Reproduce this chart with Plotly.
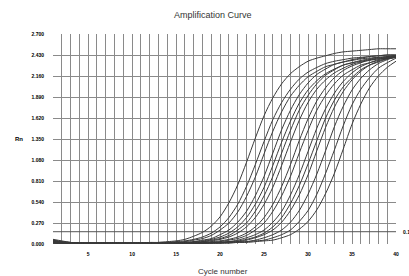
import plotly.graph_objects as go

cycles = list(range(1, 41))

curve01 = [0.04,0.02,0.01,0.01,0.01,0.01,0.01,0.01,0.01,0.01,
           0.01,0.02,0.02,0.03,0.04,0.06,0.10,0.15,0.23,0.35,
           0.53,0.76,1.05,1.36,1.65,1.88,2.06,2.19,2.28,2.35,
           2.39,2.42,2.45,2.47,2.48,2.49,2.50,2.51,2.51,2.51]
curve02 = [0.02,0.02,0.01,0.01,0.01,0.01,0.01,0.01,0.01,0.01,
           0.01,0.01,0.02,0.02,0.03,0.04,0.06,0.09,0.14,0.22,
           0.34,0.51,0.74,1.02,1.32,1.60,1.82,1.99,2.12,2.21,
           2.27,2.32,2.35,2.37,2.39,2.40,2.41,2.42,2.43,2.43]
curve03 = [0.05,0.03,0.02,0.01,0.01,0.01,0.01,0.01,0.01,0.01,
           0.01,0.01,0.02,0.02,0.02,0.03,0.05,0.07,0.11,0.18,
           0.27,0.41,0.61,0.86,1.16,1.45,1.70,1.90,2.04,2.15,
           2.22,2.28,2.31,2.34,2.36,2.38,2.39,2.40,2.40,2.41]
curve04 = [0.00,0.01,0.01,0.01,0.01,0.01,0.01,0.01,0.01,0.01,
           0.01,0.01,0.01,0.02,0.02,0.02,0.03,0.05,0.07,0.12,
           0.18,0.28,0.42,0.62,0.87,1.17,1.47,1.72,1.92,2.07,
           2.18,2.25,2.31,2.34,2.37,2.39,2.41,2.42,2.43,2.43]
curve05 = [0.03,0.02,0.01,0.01,0.01,0.01,0.01,0.01,0.01,0.01,
           0.01,0.01,0.01,0.01,0.02,0.02,0.03,0.04,0.06,0.09,
           0.14,0.22,0.34,0.51,0.73,1.01,1.31,1.58,1.81,1.98,
           2.10,2.19,2.25,2.30,2.33,2.35,2.37,2.38,2.39,2.40]
curve06 = [-0.01,0.00,0.01,0.01,0.01,0.01,0.01,0.01,0.01,0.01,
           0.01,0.01,0.01,0.01,0.02,0.02,0.02,0.03,0.05,0.07,
           0.11,0.18,0.27,0.42,0.62,0.87,1.17,1.46,1.72,1.91,
           2.06,2.17,2.24,2.30,2.33,2.36,2.38,2.40,2.41,2.42]
curve07 = [0.04,0.03,0.02,0.01,0.01,0.01,0.01,0.01,0.01,0.01,
           0.01,0.01,0.01,0.01,0.01,0.02,0.02,0.03,0.04,0.06,
           0.09,0.14,0.22,0.34,0.51,0.73,1.01,1.31,1.59,1.82,
           1.99,2.11,2.20,2.26,2.31,2.34,2.36,2.38,2.39,2.40]
curve08 = [0.02,0.01,0.01,0.01,0.01,0.01,0.01,0.01,0.01,0.01,
           0.01,0.01,0.01,0.01,0.01,0.01,0.02,0.02,0.03,0.04,
           0.06,0.09,0.14,0.22,0.34,0.51,0.74,1.02,1.33,1.61,
           1.84,2.01,2.14,2.23,2.29,2.33,2.37,2.39,2.41,2.42]
curve09 = [0.06,0.04,0.02,0.01,0.01,0.01,0.01,0.01,0.01,0.01,
           0.01,0.01,0.01,0.01,0.01,0.01,0.02,0.02,0.02,0.03,
           0.05,0.07,0.11,0.18,0.27,0.42,0.62,0.87,1.17,1.46,
           1.72,1.91,2.06,2.17,2.24,2.30,2.33,2.36,2.38,2.40]
curve10 = [0.01,0.01,0.01,0.01,0.01,0.01,0.01,0.01,0.01,0.01,
           0.01,0.01,0.01,0.01,0.01,0.01,0.01,0.02,0.02,0.02,
           0.03,0.05,0.08,0.12,0.18,0.28,0.42,0.63,0.89,1.19,
           1.49,1.74,1.94,2.09,2.20,2.28,2.33,2.37,2.40,2.42]
curve11 = [0.03,0.02,0.01,0.01,0.01,0.01,0.01,0.01,0.01,0.01,
           0.01,0.01,0.01,0.01,0.01,0.01,0.01,0.01,0.02,0.02,
           0.03,0.04,0.06,0.09,0.14,0.22,0.34,0.52,0.75,1.03,
           1.33,1.62,1.85,2.02,2.14,2.24,2.30,2.34,2.38,2.40]
curve12 = [0.05,0.03,0.01,0.01,0.01,0.01,0.01,0.01,0.01,0.01,
           0.01,0.01,0.01,0.01,0.01,0.01,0.01,0.01,0.02,0.02,
           0.03,0.03,0.05,0.08,0.12,0.18,0.28,0.43,0.63,0.89,
           1.20,1.50,1.76,1.96,2.11,2.22,2.30,2.35,2.39,2.42]
curve13 = [0.00,0.01,0.01,0.01,0.01,0.01,0.01,0.01,0.01,0.01,
           0.01,0.01,0.01,0.01,0.01,0.01,0.01,0.01,0.01,0.02,
           0.02,0.03,0.03,0.05,0.08,0.12,0.18,0.28,0.43,0.64,
           0.90,1.20,1.51,1.77,1.98,2.13,2.24,2.32,2.37,2.41]
curve14 = [0.04,0.02,0.01,0.01,0.01,0.01,0.01,0.01,0.01,0.01,
           0.01,0.01,0.01,0.01,0.01,0.01,0.01,0.01,0.01,0.01,
           0.02,0.02,0.03,0.04,0.05,0.08,0.12,0.18,0.29,0.43,
           0.64,0.91,1.21,1.52,1.79,1.99,2.14,2.26,2.33,2.39]
curve15 = [0.02,0.02,0.01,0.01,0.01,0.01,0.01,0.01,0.01,0.01,
           0.01,0.01,0.01,0.01,0.01,0.01,0.01,0.01,0.01,0.01,
           0.01,0.02,0.02,0.03,0.04,0.05,0.08,0.12,0.19,0.29,
           0.44,0.65,0.91,1.22,1.54,1.80,2.01,2.16,2.27,2.35]

curves = [curve01, curve02, curve03, curve04, curve05, curve06, curve07, curve08,
          curve09, curve10, curve11, curve12, curve13, curve14, curve15]

threshold = 0.158
threshold_label = "0.158"
y_ticks = [0.0, 0.27, 0.54, 0.81, 1.08, 1.35, 1.62, 1.89, 2.16, 2.43, 2.70]
x_ticks = [5, 10, 15, 20, 25, 30, 35, 40]

W, H = 409, 276
ML, MR, MT, MB = 53, 13, 34, 32

fig = go.Figure()

fig.add_trace(go.Scatter(x=[cycles[0], cycles[-1]], y=[threshold, threshold], mode="lines",
                         line=dict(color="#555555", width=1), hoverinfo="skip"))

for c in curves:
    fig.add_trace(go.Scatter(x=cycles, y=c, mode="lines",
                             line=dict(color="#3a3a3a", width=1, shape="spline", smoothing=0.8),
                             hoverinfo="skip"))

tickfont = dict(family="Liberation Sans", size=5, color="#000000", weight="bold")
gridc = "#8a8a8a"

plot_w = W - ML - MR
plot_h = H - MT - MB

fig.update_layout(
    width=W, height=H,
    margin=dict(l=ML, r=MR, t=MT, b=MB, autoexpand=False),
    paper_bgcolor="white", plot_bgcolor="white",
    showlegend=False,
    hovermode=False,
    title=dict(text="Amplification Curve", x=0.52, xanchor="center", y=0.945, yanchor="middle",
               font=dict(family="Liberation Sans", size=9, color="#333333")),
    xaxis=dict(range=[1, 40], tickvals=x_ticks, ticktext=[str(v) for v in x_ticks],
               showgrid=True, gridcolor=gridc, gridwidth=1,
               minor=dict(dtick=1, tick0=0, showgrid=True, gridcolor=gridc, gridwidth=1),
               zeroline=False, showline=False, ticks="", tickfont=tickfont,
               ticklabelstandoff=6, automargin=False),
    yaxis=dict(range=[0, 2.7], tickvals=y_ticks, tickformat=".3f",
               showgrid=True, gridcolor=gridc, gridwidth=1,
               zeroline=False, showline=False, ticks="", tickfont=tickfont,
               ticklabelstandoff=8, automargin=False),
    annotations=[
        dict(text="Rn", x=(13 - ML) / plot_w, y=(H - MB - 139) / plot_h, xref="paper", yref="paper",
             showarrow=False,
             font=dict(family="Liberation Sans", size=6, color="#000000", weight="bold")),
        dict(text="Cycle number", x=(223 - ML) / plot_w, y=(H - MB - 271) / plot_h,
             xref="paper", yref="paper", showarrow=False, yanchor="middle",
             font=dict(family="Liberation Sans", size=8, color="#333333")),
        dict(text=threshold_label, x=40, y=threshold, xref="x", yref="y", xanchor="left",
             xshift=5, showarrow=False,
             font=dict(family="Liberation Sans", size=5, color="#000000", weight="bold")),
    ],
)

fig.write_html("out.html",
               config={"displayModeBar": False, "staticPlot": True},
               post_script="document.body.style.margin='0';document.body.style.padding='0';"
                           "document.body.style.overflow='hidden';")
